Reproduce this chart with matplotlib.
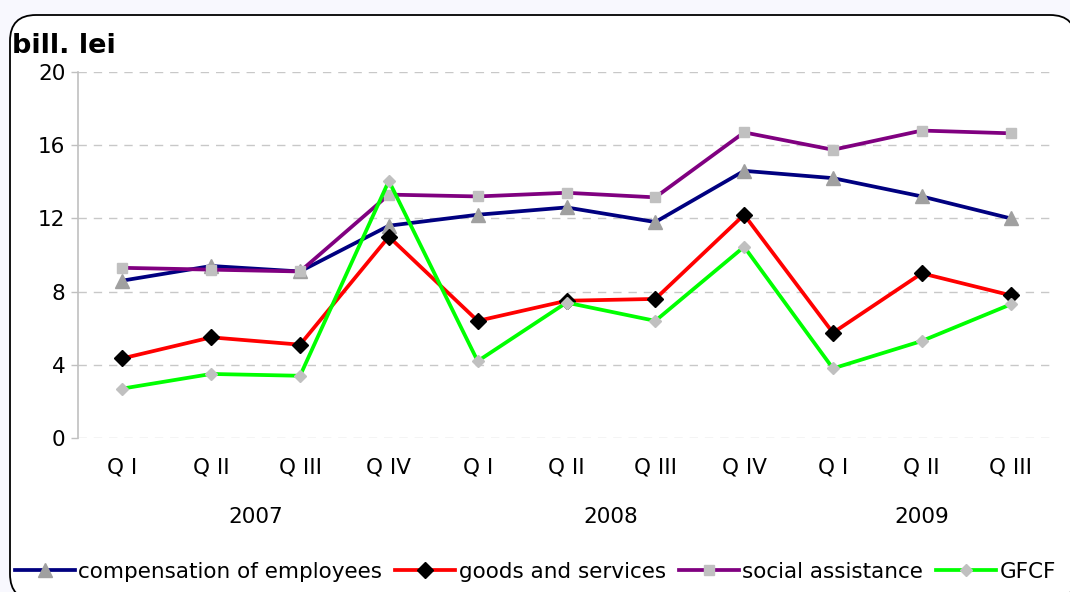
import matplotlib
matplotlib.use('Agg')
import matplotlib.pyplot as plt
from matplotlib.patches import FancyBboxPatch
from matplotlib.lines import Line2D
import numpy as np

plt.rcParams['font.family'] = ['DejaVu Sans']

quarters = ['Q I', 'Q II', 'Q III', 'Q IV',
            'Q I', 'Q II', 'Q III', 'Q IV',
            'Q I', 'Q II', 'Q III']
years = ['2007', '2008', '2009']
year_centers = [1.5, 5.5, 9.0]

compensation = [8.6, 9.4, 9.1, 11.6, 12.2, 12.6, 11.8, 14.6, 14.2, 13.2, 12.0]
goods_services = [4.35, 5.5, 5.1, 11.0, 6.4, 7.5, 7.6, 12.2, 5.75, 9.0, 7.8]
social_assist = [9.3, 9.2, 9.1, 13.3, 13.2, 13.4, 13.15, 16.7, 15.75, 16.8, 16.65]
gfcf = [2.7, 3.5, 3.4, 14.05, 4.2, 7.4, 6.4, 10.45, 3.8, 5.3, 7.3]

series = [
    ('compensation of employees', compensation, '#000080', '^', '#a0a0a0', 10),
    ('goods and services', goods_services, '#ff0000', 'D', '#000000', 8),
    ('social assistance', social_assist, '#800080', 's', '#c0c0c0', 7),
    ('GFCF', gfcf, '#00ff00', 'D', '#c0c0c0', 6),
]

FS = 15.5
W, H = 1070, 592

fig = plt.figure(figsize=(W / 100, H / 100), dpi=100)
fig.patch.set_facecolor('#f8f8fe')

# rounded white frame behind the chart (runs slightly off the right/bottom edges)
x0, y0, x1, y1 = 10, 15, 1076, 600
frame = FancyBboxPatch((x0 / W, 1 - y1 / H), (x1 - x0) / W, (y1 - y0) / H,
                       boxstyle='round,pad=0,rounding_size=%f' % (26 / W),
                       transform=fig.transFigure, facecolor='white',
                       edgecolor='black', linewidth=1.3, zorder=-5,
                       mutation_aspect=W / H)
fig.patches.append(frame)

ax = fig.add_axes([78 / W, 1 - 438 / H, 977 / W, 366 / H])
ax.set_facecolor('none')
ax.set_zorder(2)

x = np.arange(len(quarters))
handles = []
for label, vals, col, mk, mcol, ms in series:
    ax.plot(x, vals, color=col, lw=2.7, marker=mk, markersize=ms,
            markerfacecolor=mcol, markeredgecolor=mcol, zorder=3)
    handles.append(Line2D([], [], color=col, lw=2.7, marker=mk, markersize=ms,
                          markerfacecolor=mcol, markeredgecolor=mcol))

ax.set_xlim(-0.5, len(quarters) - 0.5)
ax.set_ylim(0, 20)
ax.set_yticks(np.arange(0, 21, 4))
ax.set_xticks(x)
ax.set_xticklabels(quarters)
ax.tick_params(axis='x', length=0, pad=14, labelsize=FS)
ax.tick_params(axis='y', length=5, color='#c0c0c0', width=1, labelsize=FS, pad=4)
ax.yaxis.grid(True, color='#c8c8c8', linestyle=(0, (6, 5)), lw=1)
for side in ['top', 'right', 'bottom']:
    ax.spines[side].set_visible(False)
ax.spines['left'].set_color('#c0c0c0')
ax.spines['left'].set_linewidth(1.2)

for yr, xc in zip(years, year_centers):
    ax.text(xc, -0.215, yr, transform=ax.get_xaxis_transform(),
            ha='center', va='center', fontsize=FS)

fig.text(12 / W, 1 - 46 / H, 'bill. lei', fontsize=19.5, fontweight='bold',
         ha='left', va='center')

fig.legend(handles, [s[0] for s in series], loc='center left',
           bbox_to_anchor=(6 / W, 1 - 572 / H), ncol=4, frameon=False,
           fontsize=FS, handlelength=2.8, handletextpad=0.15, columnspacing=0.6,
           borderaxespad=0)

fig.savefig('out.png', dpi=100, facecolor=fig.get_facecolor())
